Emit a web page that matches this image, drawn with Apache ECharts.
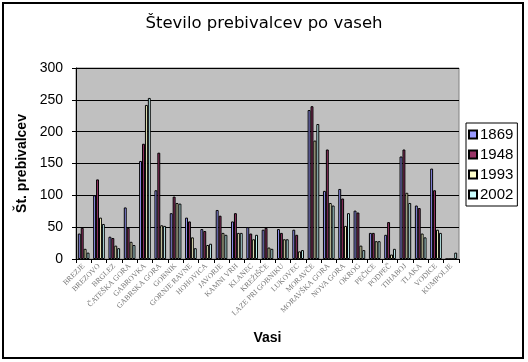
<!DOCTYPE html>
<html><head><meta charset="utf-8">
<script src="https://cdn.jsdelivr.net/npm/echarts@6/dist/echarts.min.js"></script>
<style>html,body{margin:0;padding:0;background:#fff}#c{width:528px;height:362px}</style>
</head><body><div id="c"></div>
<script>
const categories = ['BREZJE','BREZOVO','BRGLEZ','ČATEŠKA GORA','GABROVKA','GABRSKA GORA','GOBNIK','GORNJE RAVNE','HOHOVICA','JAVORJE','KAMNI VRH','KLANEC','KREŽIŠČE','LAZE PRI GOBNIKU','LUKOVEC','MORAVČE','MORAVŠKA GORA','NOVA GORA','OKROG','PEČICE','PODPEČ','TIHABOJ','TLAKA','VODICE','KUMPOLJE'];
const seriesNames = ['1869','1948','1993','2002'];
const v1869 = [40,100,35,81,154,108,72,65,47,77,59,50,46,47,46,234,107,110,76,41,38,161,84,142,0];
const v1948 = [49,125,33,49,181,167,98,59,44,68,72,40,49,41,38,240,172,95,73,41,58,172,80,108,0];
const v1993 = [16,65,21,27,242,53,88,34,22,41,41,31,18,31,12,186,88,52,21,28,7,104,40,46,0];
const v2002 = [10,55,17,22,253,52,87,17,24,38,41,38,16,31,14,212,84,72,14,28,16,88,34,41,10];
const yTicks = [0,50,100,150,200,250,300];
const colors = ['#9999FF','#993366','#FFFFCC','#CCFFFF'];
const values = [v1869, v1948, v1993, v2002];

const chart = echarts.init(document.getElementById('c'), null, {renderer:'canvas'});
chart.setOption({
  backgroundColor: '#ffffff',
  animation: false,
  title: {
    text: 'Število prebivalcev po vaseh',
    left: 'center', top: 10,
    textStyle: {fontFamily: 'DejaVu Sans', fontSize: 16.5, fontWeight: 'normal', color: '#000'}
  },
  legend: {
    orient: 'vertical',
    left: 466, top: 123,
    padding: [4, 4, 4, 2],
    borderColor: '#000', borderWidth: 1,
    itemWidth: 8, itemHeight: 8, itemGap: 5,
    icon: 'rect',
    textStyle: {fontFamily: 'Liberation Sans', fontSize: 15, color: '#000', lineHeight: 15, padding: [0,0,0,-2]},
    data: seriesNames
  },
  grid: {
    left: 76, top: 68, right: 69, bottom: 103,
    show: true, backgroundColor: '#c0c0c0', borderColor: '#808080', borderWidth: 1
  },
  xAxis: {
    type: 'category',
    data: categories,
    name: 'Vasi', nameLocation: 'middle', nameGap: 72,
    nameTextStyle: {fontFamily: 'Liberation Sans', fontSize: 14, fontWeight: 'bold', color: '#000'},
    axisLine: {lineStyle: {color: '#000', width: 1}},
    axisTick: {show: true, length: 4, lineStyle: {color: '#000'}},
    axisLabel: {rotate: 45, interval: 0, margin: 6, fontFamily: 'Liberation Serif', fontSize: 7.6, color: '#777'}
  },
  yAxis: {
    type: 'value', min: 0, max: 300, interval: 50,
    name: 'Št. prebivalcev', nameLocation: 'middle', nameGap: 43, nameRotate: 90,
    nameTextStyle: {fontFamily: 'Liberation Sans', fontSize: 14, fontWeight: 'bold', color: '#000'},
    axisLine: {show: true, lineStyle: {color: '#000', width: 1}},
    axisTick: {show: true, length: 4, lineStyle: {color: '#000'}},
    axisLabel: {margin: 13, fontFamily: 'Liberation Sans', fontSize: 14, color: '#000',
      formatter: v => yTicks.includes(v) ? String(v) : ''},
    splitLine: {show: true, lineStyle: {color: '#000', width: 1}}
  },
  graphic: [{
    type: 'rect', shape: {x: 3, y: 3, width: 520, height: 355},
    style: {fill: 'none', stroke: '#000', lineWidth: 2}, silent: true, z: 100
  }],
  series: seriesNames.map((n, i) => ({
    name: n, type: 'bar', data: values[i],
    barGap: '0%', barCategoryGap: '24%',
    itemStyle: {color: colors[i], borderColor: '#000', borderWidth: 1}
  }))
});
</script></body></html>
